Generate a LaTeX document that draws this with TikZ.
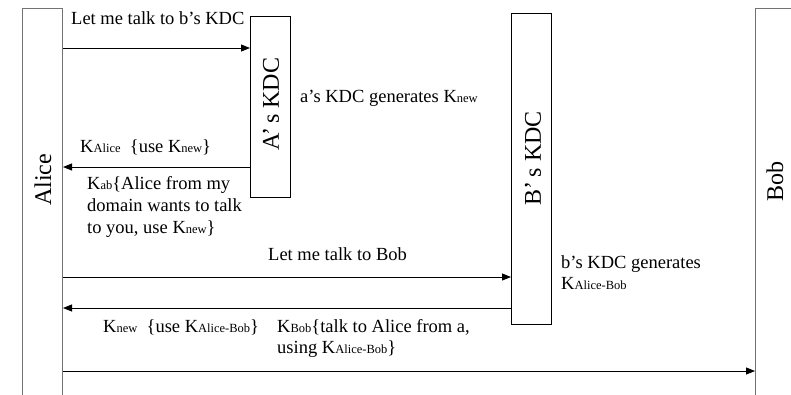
\documentclass[tikz,border=0pt]{standalone}
\usepackage{fontspec}
\setmainfont{Liberation Serif}
\usetikzlibrary{arrows.meta}
\newcommand{\ksub}[1]{{\fontsize{12.5}{12.5}\selectfont #1}}
\tikzset{
  lane/.style={draw=black!55, line width=1pt, minimum width=40pt, anchor=north west, inner sep=0pt},
  kdc/.style={draw=black, line width=0.9pt, minimum width=40pt, anchor=north west, inner sep=0pt},
  boxlabel/.style={font=\fontsize{24}{24}\selectfont, rotate=90, inner sep=0pt},
  msg/.style={draw=black, line width=0.9pt, -{Triangle[length=9pt,width=7pt]}},
  note/.style={font=\fontsize{18.5}{22}\selectfont, anchor=base west, inner sep=0pt, align=left},
}
\begin{document}
\begin{tikzpicture}[x=1pt,y=-1pt]
\useasboundingbox (0,0) rectangle (791,394);
\clip (0,0) rectangle (791,394);

% participants and key distribution centres
\node[lane, minimum height=400pt] (alice) at (22,8) {};
\node[lane, minimum height=400pt] (bob) at (755,8) {};
\node[kdc, minimum height=181pt] (akdc) at (250,16) {};
\node[kdc, minimum height=311pt] (bkdc) at (511,13) {};

\node[boxlabel] (alicelbl) at (43,180) {Alice};
\node[boxlabel] (boblbl) at (775,181) {Bob};
\node[boxlabel] (akdclbl) at (271,104) {A’\,s KDC};
\node[boxlabel] (bkdclbl) at (533,158) {B’\,s KDC};

% message anchors along the lifelines
\coordinate (m1) at (0,48);
\coordinate (m2) at (0,167);
\coordinate (m3) at (0,277);
\coordinate (m4) at (0,308);
\coordinate (m5) at (0,371);

\draw[msg] (alice.east |- m1) -- (akdc.west |- m1);
\draw[msg] (akdc.west |- m2) -- (alice.east |- m2);
\draw[msg] (alice.east |- m3) -- (bkdc.west |- m3);
\draw[msg] (bkdc.west |- m4) -- (alice.east |- m4);
\draw[msg] (alice.east |- m5) -- (bob.west |- m5);

% message texts (multi-line notes are placed by their last baseline)
\node[note] (t1) at (71,24) {Let me talk to b’s KDC};
\node[note] (t2) at (80,152) {K\ksub{Alice}\ \ \{use K\ksub{new}\}};
\node[note] (t3) at (87,233) {K\ksub{ab}\{Alice from my\\domain wants to talk\\to you, use K\ksub{new}\}};
\node[note] (t4) at (300,102) {a’s KDC generates K\ksub{new}};
\node[note] (t5) at (268,260) {Let me talk to Bob};
\node[note] (t6) at (561,289) {b’s KDC generates\\[-1pt]K\ksub{Alice-Bob}};
\node[note] (t7) at (103,332) {K\ksub{new}\ \ \{use K\ksub{Alice-Bob}\}};
\node[note] (t8) at (277,353) {K\ksub{Bob}\{talk to Alice from a,\\[-1pt]using K\ksub{Alice-Bob}\}};
\end{tikzpicture}
\end{document}
